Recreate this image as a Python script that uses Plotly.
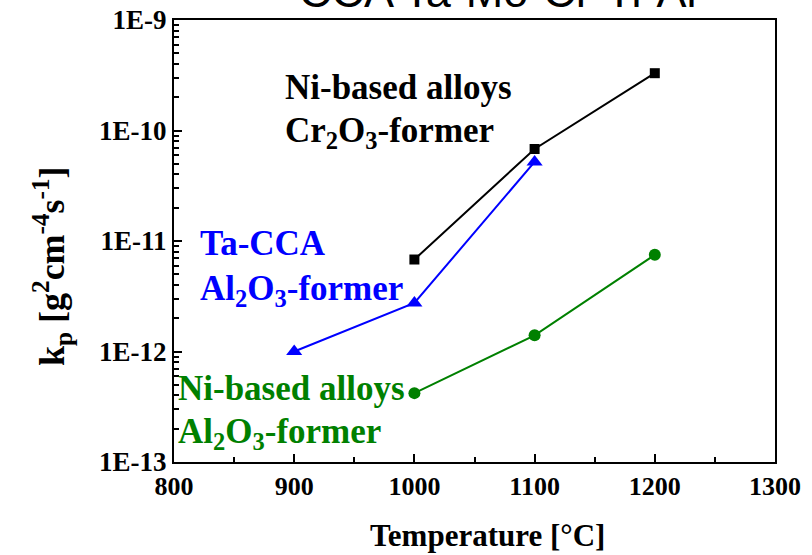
import plotly.graph_objects as go

# Data
temp_cr = [1000, 1100, 1200]
kp_cr = [6.8e-12, 6.8e-11, 3.3e-10]
temp_ta = [900, 1000, 1100]
kp_ta = [1.0e-12, 2.75e-12, 5.2e-11]
temp_al = [1000, 1100, 1200]
kp_al = [4.2e-13, 1.4e-12, 7.5e-12]

ytickvals = [1e-13, 1e-12, 1e-11, 1e-10, 1e-9]
yticktext = ["1E-13", "1E-12", "1E-11", "1E-10", "1E-9"]
yminor = [m * d for d in [1e-13, 1e-12, 1e-11, 1e-10] for m in range(2, 10)]

SERIF = "Liberation Serif"
fig = go.Figure()
fig.add_trace(go.Scatter(x=temp_cr, y=kp_cr, mode="lines+markers",
                         line=dict(color="black", width=2),
                         marker=dict(symbol="square", size=10, color="black")))
fig.add_trace(go.Scatter(x=temp_ta, y=kp_ta, mode="lines+markers",
                         line=dict(color="#0000FF", width=2),
                         marker=dict(symbol="triangle-up", size=14, color="#0000FF")))
fig.add_trace(go.Scatter(x=temp_al, y=kp_al, mode="lines+markers",
                         line=dict(color="#008000", width=2),
                         marker=dict(symbol="circle", size=12, color="#008000")))

L, T, R, B = 174, 20, 775, 462


def px2paper(px, py):
    return (px - L) / (R - L), 1 - (py - T) / (B - T)


annots = [
    ("Ni-based alloys", 283, 87, "black"),
    ("Cr<sub>2</sub>O<sub>3</sub>-former", 283, 132, "black"),
    ("Ta-CCA", 198, 243, "#0000FF"),
    ("Al<sub>2</sub>O<sub>3</sub>-former", 198, 290, "#0000FF"),
    ("Ni-based alloys", 176, 388, "#008000"),
    ("Al<sub>2</sub>O<sub>3</sub>-former", 176, 433, "#008000"),
]
for txt, px, py, col in annots:
    x, y = px2paper(px, py)
    fig.add_annotation(text=txt, xref="paper", yref="paper", x=x, y=y,
                       xanchor="left", yanchor="middle", showarrow=False,
                       font=dict(family=SERIF, size=35, color=col, weight="bold"))

# Title (cut off at top of the image)
fig.add_annotation(text="CCA Ta-Mo-Cr-Ti-Al", xref="paper", yref="paper",
                   x=px2paper(498, 0)[0], y=1, xanchor="center", yanchor="bottom",
                   yshift=1, showarrow=False,
                   font=dict(family="Liberation Sans", size=45, color="black"))

# Axis titles
x, y = px2paper(487, 535)
fig.add_annotation(text="Temperature [°C]", xref="paper", yref="paper", x=x, y=y,
                   xanchor="center", yanchor="middle", showarrow=False,
                   font=dict(family=SERIF, size=31, color="black", weight="bold"))
x, y = px2paper(52, 266)
fig.add_annotation(text="k<sub>p</sub> [g<sup>2</sup>cm<sup>-4</sup>s<sup>-1</sup>]",
                   xref="paper", yref="paper", x=x, y=y, textangle=-90,
                   xanchor="center", yanchor="middle", showarrow=False,
                   font=dict(family=SERIF, size=36, color="black", weight="bold"))

fig.update_layout(
    width=812, height=555,
    margin=dict(l=L, r=812 - R, t=T, b=555 - B, autoexpand=False),
    plot_bgcolor="white", paper_bgcolor="white",
    showlegend=False,
    xaxis=dict(range=[800, 1300], dtick=100, tick0=800, automargin=False,
               ticks="inside", ticklen=8, tickwidth=1.5, tickcolor="black",
               minor=dict(dtick=50, ticks="inside", ticklen=5, tickwidth=1.5, tickcolor="black", showgrid=False),
               showline=True, linecolor="black", linewidth=2, mirror=True,
               showgrid=False, zeroline=False,
               tickfont=dict(family=SERIF, size=26, color="black", weight="bold")),
    yaxis=dict(type="log", range=[-13, -9], tickvals=ytickvals, ticktext=yticktext, automargin=False,
               ticks="inside", ticklen=8, tickwidth=1.5, tickcolor="black",
               minor=dict(tickvals=yminor, ticks="inside", ticklen=5, tickwidth=1.5, tickcolor="black", showgrid=False),
               showline=True, linecolor="black", linewidth=2, mirror=True,
               showgrid=False, zeroline=False,
               tickfont=dict(family=SERIF, size=27, color="black", weight="bold")),
)

fig.write_html("out.html", config={"displayModeBar": False},
               post_script="document.body.style.margin='0';document.body.style.overflow='hidden';")
